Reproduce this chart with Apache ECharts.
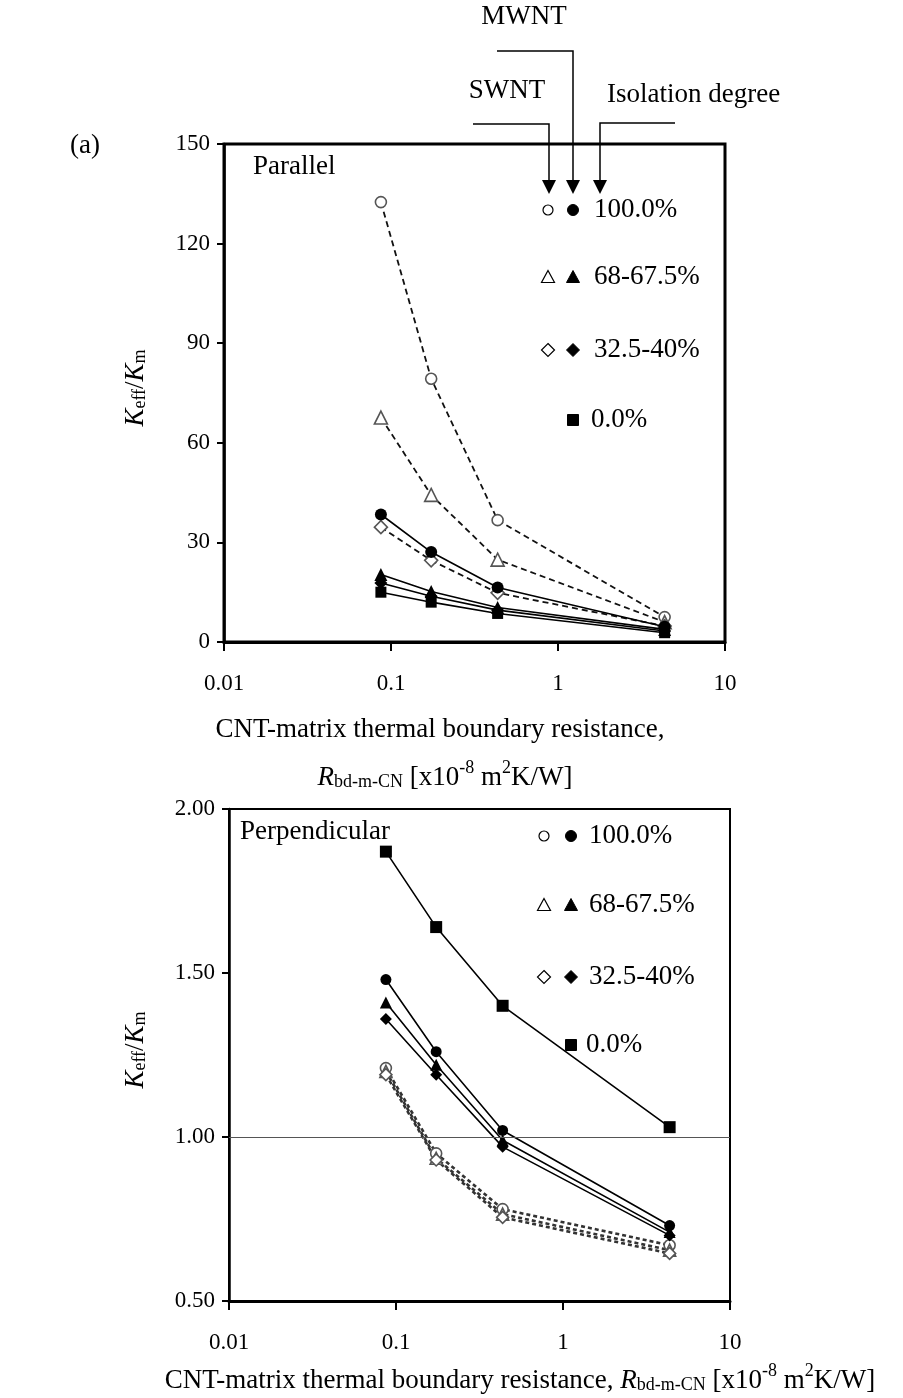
<!DOCTYPE html>
<html><head><meta charset="utf-8">
<script src="https://cdn.jsdelivr.net/npm/echarts@6/dist/echarts.min.js"></script>
<style>html,body{margin:0;padding:0;background:#fff}#c{width:903px;height:1398px}</style>
</head><body><div id="c"></div>
<script>
// ---------- data ----------
const xValues = [0.087, 0.174, 0.435, 4.35];
const xTickLabels = ['0.01', '0.1', '1', '10'];

// Parallel (top)
const parSWNT100 = [132.5, 79.3, 36.7, 7.5];
const parSWNT68  = [67.6, 44.3, 24.8, 6.0];
const parSWNT32  = [34.6, 24.6, 14.8, 4.8];
const parMWNT100 = [38.4, 27.1, 16.4, 4.6];
const parMWNT67  = [20.3, 15.2, 10.4, 3.8];
const parMWNT40  = [17.8, 13.8, 9.6, 3.3];
const parMWNT0   = [15.0, 12.0, 8.6, 2.8];

// Perpendicular (bottom)
const perSWNT100 = [1.21, 0.95, 0.78, 0.67];
const perSWNT68  = [1.20, 0.935, 0.765, 0.655];
const perSWNT32  = [1.19, 0.93, 0.755, 0.645];
const perMWNT100 = [1.48, 1.26, 1.02, 0.73];
const perMWNT67  = [1.41, 1.22, 0.99, 0.71];
const perMWNT40  = [1.36, 1.19, 0.97, 0.70];
const perMWNT0   = [1.87, 1.64, 1.40, 1.03];
const perRefLine = 1.0;

const legendLabels = ['100.0%', '68-67.5%', '32.5-40%', '0.0%'];

// ---------- styling ----------
const FONT = "'Liberation Serif', 'Times New Roman', serif";
const chart = echarts.init(document.getElementById('c'));

function pts(vals) { return xValues.map((x, i) => [x, vals[i]]); }

function openSeries(name, vals, g, symbol, size, dash, lw, lc) {
  return {
    name, type: 'line', xAxisIndex: g, yAxisIndex: g, data: pts(vals),
    symbol, symbolSize: size, z: 2,
    lineStyle: { color: lc, width: lw, type: dash },
    itemStyle: { color: '#fff', borderColor: '#555', borderWidth: 1.6 },
    animation: false
  };
}
function filledSeries(name, vals, g, symbol, size) {
  return {
    name, type: 'line', xAxisIndex: g, yAxisIndex: g, data: pts(vals),
    symbol, symbolSize: size, z: 3,
    lineStyle: { color: '#000', width: 1.6, type: 'solid' },
    itemStyle: { color: '#000', borderColor: '#000', borderWidth: 0 },
    animation: false
  };
}

const series = [
  openSeries('SWNT 100%', parSWNT100, 0, 'circle', 11, [6, 4], 1.8, '#111'),
  openSeries('SWNT 68%', parSWNT68, 0, 'triangle', 13, [6, 4], 1.8, '#111'),
  openSeries('SWNT 32.5%', parSWNT32, 0, 'diamond', 13, [6, 4], 1.8, '#111'),
  filledSeries('MWNT 100%', parMWNT100, 0, 'circle', 12),
  filledSeries('MWNT 67.5%', parMWNT67, 0, 'triangle', 13),
  filledSeries('MWNT 40%', parMWNT40, 0, 'diamond', 13),
  filledSeries('MWNT 0%', parMWNT0, 0, 'rect', 11),

  openSeries('SWNT 100% ', perSWNT100, 1, 'circle', 11, [4, 3], 2.6, '#333'),
  openSeries('SWNT 68% ', perSWNT68, 1, 'triangle', 12, [4, 3], 2.6, '#333'),
  openSeries('SWNT 32.5% ', perSWNT32, 1, 'diamond', 12, [4, 3], 2.6, '#333'),
  filledSeries('MWNT 100% ', perMWNT100, 1, 'circle', 11),
  filledSeries('MWNT 67.5% ', perMWNT67, 1, 'triangle', 12),
  filledSeries('MWNT 40% ', perMWNT40, 1, 'diamond', 12),
  filledSeries('MWNT 0% ', perMWNT0, 1, 'rect', 12)
];
series[13].markLine = {
  silent: true, symbol: ['none', 'none'], label: { show: false },
  lineStyle: { color: '#555', width: 1, type: 'solid' },
  data: [{ yAxis: perRefLine }], animation: false
};

function xAxisCfg(g) {
  return {
    type: 'log', logBase: 10, min: 0.01, max: 10, gridIndex: g,
    axisLine: { show: true, onZero: false, lineStyle: { color: '#000', width: 3 } },
    axisTick: { show: true, inside: false, length: 9, lineStyle: { color: '#000', width: 2 } },
    minorTick: { show: false }, splitLine: { show: false },
    axisLabel: {
      margin: 30, color: '#000', fontFamily: FONT, fontSize: 23,
      formatter: v => xTickLabels[Math.round(Math.log10(v)) + 2]
    }
  };
}
function yAxisCfg(g, min, max, interval, fmt) {
  return {
    type: 'value', min, max, interval, gridIndex: g,
    axisLine: { show: true, onZero: false, lineStyle: { color: '#000', width: 2.5 } },
    axisTick: { show: true, inside: false, length: 7, lineStyle: { color: '#000', width: 2 } },
    splitLine: { show: false },
    axisLabel: { margin: 14, color: '#000', fontFamily: FONT, fontSize: 23, formatter: fmt }
  };
}

// ---------- graphics (annotations) ----------
const g = [];
function txt(x, y, text, opts) {
  g.push(Object.assign({
    type: 'text', x, y, z: 10,
    style: Object.assign({ text, fill: '#000', font: '27px ' + FONT, textAlign: 'left', textVerticalAlign: 'middle' }, opts || {})
  }));
}
function line(points, w) {
  g.push({ type: 'polyline', z: 10, shape: { points }, style: { stroke: '#000', lineWidth: w || 1.5, fill: null } });
}
function arrowHead(x, yTip) {
  g.push({ type: 'polygon', z: 10, shape: { points: [[x - 7, yTip - 14], [x + 7, yTip - 14], [x, yTip]] }, style: { fill: '#000' } });
}
function sym(kind, x, y, filled, s) {
  const st = filled ? { fill: '#000', stroke: '#000', lineWidth: 1 } : { fill: '#fff', stroke: '#000', lineWidth: 1.2 };
  if (kind === 'circle') g.push({ type: 'circle', z: 10, shape: { cx: x, cy: y, r: s / 2 }, style: st });
  if (kind === 'triangle') g.push({ type: 'polygon', z: 10, shape: { points: [[x, y - s / 2], [x + s / 2, y + s / 2 - 1], [x - s / 2, y + s / 2 - 1]] }, style: st });
  if (kind === 'diamond') g.push({ type: 'polygon', z: 10, shape: { points: [[x, y - s / 2], [x + s / 2, y], [x, y + s / 2], [x - s / 2, y]] }, style: st });
  if (kind === 'rect') g.push({ type: 'rect', z: 10, shape: { x: x - s / 2, y: y - s / 2, width: s, height: s }, style: st });
}
function legendBlock(xOpen, xFilled, xText, rows) {
  const kinds = ['circle', 'triangle', 'diamond', 'rect'];
  rows.forEach((y, i) => {
    if (i < 3) {
      sym(kinds[i], xOpen, y, false, i === 0 ? 10 : 13);
      sym(kinds[i], xFilled, y, true, i === 0 ? 11 : 13);
      txt(xText, y, legendLabels[i]);
    } else {
      sym('rect', xFilled, y, true, 11);
      txt(xText - 3, y, legendLabels[i]);
    }
  });
}

// top annotations
txt(70, 146, '(a)');
txt(524, 17, 'MWNT', { textAlign: 'center' });
txt(507, 91, 'SWNT', { textAlign: 'center' });
txt(607, 95, 'Isolation degree');
line([[497, 51], [573, 51], [573, 181]]);
line([[473, 124], [549, 124], [549, 181]]);
line([[675, 123], [600, 123], [600, 181]]);
arrowHead(549, 194); arrowHead(573, 194); arrowHead(600, 194);
txt(253, 167, 'Parallel');
legendBlock(548, 573, 594, [210, 277, 350, 420]);

// bottom annotations
txt(240, 832, 'Perpendicular');
legendBlock(544, 571, 589, [836, 905, 977, 1045]);

const richK = {
  k: { fontFamily: FONT, fontSize: 27, fontStyle: 'italic', lineHeight: 32, verticalAlign: 'bottom' },
  n: { fontFamily: FONT, fontSize: 27, lineHeight: 32, verticalAlign: 'bottom' },
  sub: { fontFamily: FONT, fontSize: 18, lineHeight: 13, verticalAlign: 'bottom' },
  sup: { fontFamily: FONT, fontSize: 18, lineHeight: 13, verticalAlign: 'top' }
};
function ytitle(x, y) {
  g.push({ type: 'text', x, y, rotation: Math.PI / 2, z: 10,
    style: { text: '{k|K}{sub|eff}{n|/}{k|K}{sub|m}', rich: richK, fill: '#000', textAlign: 'center', textVerticalAlign: 'middle' } });
}
ytitle(133, 388);
ytitle(133, 1050);

const rTitle = '{k|R}{sub|bd-m-CN}{n| [x10}{sup|-8}{n| m}{sup|2}{n|K/W]}';
g.push({ type: 'text', x: 440, y: 727, z: 10,
  style: { text: '{n|CNT-matrix thermal boundary resistance,}', rich: richK, fill: '#000', textAlign: 'center', textVerticalAlign: 'middle' } });
g.push({ type: 'text', x: 445, y: 775, z: 10,
  style: { text: rTitle, rich: richK, fill: '#000', textAlign: 'center', textVerticalAlign: 'middle' } });
g.push({ type: 'text', x: 520, y: 1378, z: 10,
  style: { text: '{n|CNT-matrix thermal boundary resistance, }' + rTitle, rich: richK, fill: '#000', textAlign: 'center', textVerticalAlign: 'middle' } });

chart.setOption({
  animation: false,
  backgroundColor: '#fff',
  grid: [
    { left: 224, top: 144, width: 501, height: 498, show: true, borderColor: '#000', borderWidth: 3, backgroundColor: 'transparent' },
    { left: 229, top: 809, width: 501, height: 492, show: true, borderColor: '#000', borderWidth: 2, backgroundColor: 'transparent' }
  ],
  xAxis: [xAxisCfg(0), xAxisCfg(1)],
  yAxis: [
    yAxisCfg(0, 0, 150, 30, v => String(v)),
    yAxisCfg(1, 0.5, 2.0, 0.5, v => v.toFixed(2))
  ],
  series,
  graphic: g
});
</script>
</body></html>
